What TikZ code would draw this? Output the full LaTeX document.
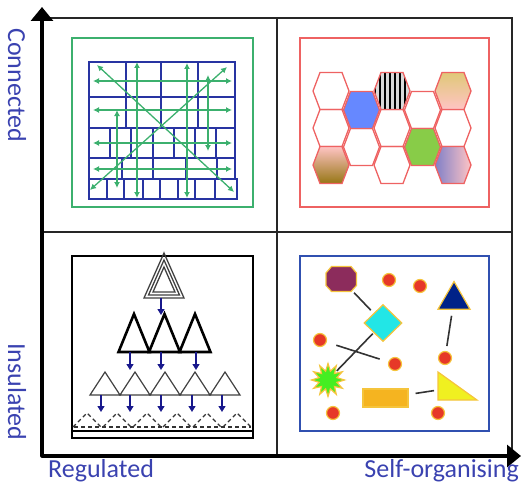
\documentclass[tikz,border=0pt]{standalone}
\usepackage{fontspec}
\setmainfont{Carlito}
\usetikzlibrary{arrows.meta,positioning,shapes.geometric,patterns.meta}

\definecolor{axislbl}{RGB}{58,66,176}
\definecolor{gridblue}{RGB}{40,52,162}
\definecolor{netgreen}{RGB}{60,176,110}
\definecolor{hexred}{RGB}{238,98,98}
\definecolor{hexpink}{RGB}{255,196,196}
\definecolor{hexolive}{RGB}{150,118,20}
\definecolor{hextan}{RGB}{224,200,120}
\definecolor{hexblue}{RGB}{102,136,255}
\definecolor{hexslate}{RGB}{128,128,200}
\definecolor{hexgreen}{RGB}{136,204,72}
\definecolor{flowblue}{RGB}{24,24,140}
\definecolor{boxblue}{RGB}{48,80,176}
\definecolor{gold}{RGB}{245,196,60}
\definecolor{dotred}{RGB}{230,56,40}
\definecolor{plum}{RGB}{140,44,92}
\definecolor{navytri}{RGB}{0,34,136}
\definecolor{aqua}{RGB}{34,230,230}
\definecolor{lime}{RGB}{68,238,34}
\definecolor{amber}{RGB}{245,180,32}
\definecolor{lemon}{RGB}{240,240,32}

% one stretched hexagon, started from its centre
\newcommand\hexcell{++(-18,0) -- ++(7,-18.5) -- ++(22,0) -- ++(7,18.5) -- ++(-7,18.5) -- ++(-22,0) -- cycle}

\begin{document}
\begin{tikzpicture}[x=1pt, y=-1pt,
  axisline/.style={line width=3.2pt, line join=round,
    {Triangle[width=22pt,length=14pt]}-{Triangle[width=22pt,length=14pt]}},
  divider/.style={line width=1.2pt, black!85},
  lbl/.style={font=\fontsize{26}{31}\selectfont, text=axislbl, inner sep=0pt},
  cell/.style={draw=gridblue, line width=1.2pt},
  flow/.style={netgreen, line width=1.3pt,
    {Latex[length=6pt,width=6pt]}-{Latex[length=6pt,width=6pt]}},
  hexline/.style={draw=hexred, line width=1.3pt},
  ridge/.style={draw=black!75, line width=1.3pt},
  bigtri/.style={draw=black, line width=2.6pt},
  smalltri/.style={draw=black!75, line width=1.2pt},
  ghost/.style={draw=black!80, line width=1.2pt, dash pattern=on 4pt off 3pt},
  down/.style={flowblue, line width=1.4pt, -{Triangle[length=6pt,width=7pt]}},
  blob/.style={draw=gold, line width=1.2pt, inner sep=0pt},
  spot/.style={blob, circle, fill=dotred, minimum size=13pt},
  link/.style={black!80, line width=1.6pt, shorten <=4pt, shorten >=4pt}]
  \useasboundingbox (0,0) rectangle (521,484);

  % quadrant frame and axes
  \coordinate (ytop) at (42,7);
  \coordinate (o) at (42,456);
  \coordinate (xend) at (521,456);
  \draw[divider] (42,18) -- (512,18) -- (512,456);
  \draw[divider] (277,18) -- (277,456);
  \draw[divider] (42,232) -- (512,232);
  \draw[axisline] (ytop) -- (o) -- (xend);

  \node[lbl, below right=3pt and 6pt of o] (reg) {Regulated};
  \node[lbl, below left=3pt and 2pt of xend] (selforg) {Self-organising};
  \node[lbl, rotate=-90, anchor=west] (conn) at (17,28) {Connected};
  \node[lbl, rotate=-90, anchor=west] (insul) at (17,343) {Insulated};

  % regulated + connected: grid of cells with two-way links
  \draw[netgreen, line width=1.3pt] (72,38) rectangle (253,207);
  \foreach \ya/\yb/\xe/\xs in {62/97/235/{126,161,198},
      97/128/235/{126,161,198},
      128/158/235/{110,131,153,174,195,216},
      158/179/235/{122,153,186,217},
      179/199/237/{107,124,143,160,178,195,215}}
  {
    \draw[cell] (89,\ya) rectangle (\xe,\yb);
    \foreach \x in \xs \draw[cell] (\x,\ya) -- (\x,\yb);
  }
  \draw[cell, line width=2.2pt] (89,97) -- (161,97);
  \draw[cell, line width=2.2pt] (186,158) -- (186,179);
  \foreach \y in {81,110,143,169} \draw[flow] (93,\y) -- (232,\y);
  \draw[flow] (97,65) -- (234,192);
  \draw[flow] (90,190) -- (227,67);
  \draw[flow] (137,62) -- (137,198);
  \draw[flow] (187,63) -- (187,198);
  \draw[flow] (117,110) -- (117,188);
  \draw[flow] (208,75) -- (208,151);

  % self-organising + connected: honeycomb
  \draw[hexred, line width=1.3pt] (300,38) rectangle (489,207);
  \foreach \x/\y in {331/91, 331/128, 361.5/147, 392/128, 392/165, 422.5/110, 453/128}
    \draw[hexline] (\x,\y) \hexcell;
  \draw[hexline, top color=hexpink, middle color=hexpink, bottom color=hexolive] (331,165) \hexcell;
  \draw[hexline, fill=hexblue] (361.5,110) \hexcell;
  \draw[hexline, preaction={fill=black!15}, pattern={Lines[angle=90,distance=5pt,line width=2.4pt]}] (392,91) \hexcell;
  \draw[hexline, fill=hexgreen] (422.5,147) \hexcell;
  \draw[hexline, top color=hextan, middle color=hexpink, bottom color=hexpink] (453,91) \hexcell;
  \draw[hexline, left color=hexslate, right color=hexpink] (453,165) \hexcell;

  % regulated + insulated: cascade of triangles
  \draw[black, line width=1.1pt] (72,256) rectangle (253,438);
  \foreach \t/\b/\w in {253/298/20, 260/295/15.5, 267/292/11}
    \draw[ridge] (164,\t) -- (164-\w,\b) -- (164+\w,\b) -- cycle;
  \draw[down] (161,298) -- (161,315);
  \foreach \x in {134,164.5,195}
    \draw[bigtri] (\x,314) -- (\x-15.5,352) -- (\x+15.5,352) -- cycle;
  \foreach \x in {130,161,196} \draw[down] (\x,352) -- (\x,370);
  \foreach \x in {105,135,165,195,225}
    \draw[smalltri] (\x,372) -- (\x-15,395) -- (\x+15,395) -- cycle;
  \foreach \x in {101,130,161,192,222} \draw[down] (\x,395) -- (\x,412);
  \foreach \x in {87,117,147,177,207,237}
    \draw[ghost] (\x-14,427) -- (\x,413) -- (\x+14,427);
  \draw[ghost] (74,427) -- (251,427);
  \draw[black, line width=1.1pt] (72,431) -- (253,431);

  % self-organising + insulated: loose shapes
  \draw[boxblue, line width=1.3pt] (300,256) rectangle (489,431);
  \draw[blob, fill=plum] (326,273) -- (331.5,266.5) -- (351,266.5) -- (356.5,273)
    -- (356.5,285.5) -- (351,291.5) -- (331.5,291.5) -- (326,285.5) -- cycle;
  \coordinate (oct) at (341,279);
  \node[blob, diamond, minimum width=38pt, minimum height=37pt, fill=aqua] (gem) at (383,323) {};
  \node[blob, star, star points=12, star point ratio=1.8, minimum size=33pt, fill=lime] (burst) at (328,380) {};
  \node[blob, regular polygon, regular polygon sides=3, minimum size=37pt, fill=navytri] (peak) at (454,300) {};
  \node[blob, minimum width=45pt, minimum height=18pt, fill=amber] (bar) at (385.5,398) {};
  \draw[blob, fill=lemon] (438,372) -- (438,400) -- (477,400) -- cycle;
  \coordinate (wedge) at (438,390);
  \foreach \n/\x/\y in {a/389/280, b/420/286, c/320/340, d/395/364, e/445/358, f/333/413, g/438/413}
    \node[spot] (d\n) at (\x,\y) {};

  \draw[link, shorten <=19pt] (oct) -- (gem);
  \draw[link, shorten <=1pt, shorten >=2pt] (gem) -- (burst);
  \draw[link, shorten <=10pt, shorten >=9pt] (dc) -- (dd);
  \draw[link, shorten <=6pt, shorten >=5pt] (peak) -- (de);
  \draw[link, shorten <=7pt, shorten >=4pt] (bar) -- (wedge);
\end{tikzpicture}
\end{document}
